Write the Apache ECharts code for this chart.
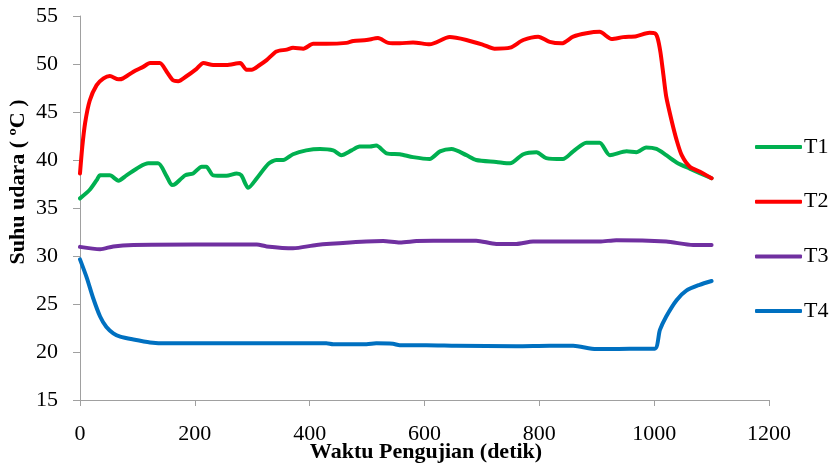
<!DOCTYPE html>
<html>
<head>
<meta charset="utf-8">
<script src="https://cdn.jsdelivr.net/npm/echarts@6/dist/echarts.min.js"></script>
<style>
  html, body { margin: 0; padding: 0; background: #fff; }
  #chart { width: 835px; height: 468px; }
</style>
</head>
<body>
<div id="chart"></div>
<script>
// Air temperature (°C) at four sensors over the test time (seconds)
const seriesNames = ['T1', 'T2', 'T3', 'T4'];
const seriesColors = ['#00B050', '#FF0000', '#7030A0', '#0070C0'];

const t1Time = [0,17,29,35,52,67,81,104,119,136,151,160,165,183,197,212,220,232,255,273,281,293,308,328,342,354,371,394,418,441,455,473,487,505,516,534,557,580,609,627,647,673,690,725,749,772,795,812,841,859,882,905,923,952,969,986,1004,1021,1039,1062,1100];
const t1Temp = [36.0,36.9,37.9,38.4,38.4,37.85,38.4,39.3,39.65,39.65,38.3,37.4,37.45,38.4,38.6,39.3,39.3,38.4,38.35,38.6,38.4,37.1,38.1,39.6,40.0,40.0,40.6,41.0,41.15,41.0,40.5,41.0,41.4,41.4,41.5,40.7,40.6,40.3,40.1,40.9,41.15,40.5,40.0,39.8,39.65,40.6,40.8,40.2,40.1,40.9,41.8,41.8,40.5,40.9,40.8,41.3,41.15,40.5,39.75,39.1,38.1];

const t2Time = [0,4,9,17,29,41,52,67,75,93,110,122,139,151,162,171,186,203,215,232,255,279,290,299,313,325,342,360,371,389,406,429,464,476,499,519,537,557,580,609,644,673,702,722,749,772,798,818,839,859,882,905,926,946,969,992,1001,1006,1011,1016,1021,1030,1039,1048,1062,1079,1100];
const t2Temp = [38.6,41.4,43.9,46.2,47.8,48.5,48.75,48.4,48.5,49.2,49.7,50.1,50.1,49.2,48.3,48.2,48.75,49.5,50.1,49.9,49.9,50.1,49.4,49.4,49.9,50.4,51.3,51.5,51.7,51.6,52.1,52.1,52.2,52.4,52.5,52.7,52.2,52.15,52.25,52.05,52.8,52.5,52.0,51.6,51.7,52.5,52.85,52.3,52.15,52.85,53.2,53.35,52.6,52.8,52.9,53.25,53.2,52.7,51.2,48.9,46.6,44.2,42.1,40.5,39.3,38.8,38.1];

const t3Time = [0,35,58,93,200,308,325,371,412,470,528,557,586,615,690,725,760,789,905,934,1021,1068,1100];
const t3Temp = [30.95,30.7,31.0,31.15,31.2,31.2,31.0,30.8,31.15,31.4,31.55,31.4,31.55,31.6,31.6,31.25,31.25,31.5,31.5,31.65,31.5,31.15,31.15];

const t4Time = [0,12,23,35,46,58,70,93,122,151,300,429,441,499,516,545,557,603,655,760,818,859,899,957,1001,1010,1021,1039,1056,1079,1100];
const t4Temp = [29.65,27.7,25.6,23.7,22.6,21.95,21.6,21.3,21.0,20.9,20.9,20.9,20.8,20.8,20.9,20.85,20.7,20.7,20.65,20.6,20.65,20.65,20.3,20.35,20.35,22.3,23.7,25.4,26.4,27.0,27.4];

const xTicks = { min: 0, max: 1200, step: 200 };
const yTicks = { min: 15, max: 55, step: 5 };

const xTitle = 'Waktu Pengujian (detik)';
const yTitle = 'Suhu udara ( ºC )';

const times = [t1Time, t2Time, t3Time, t4Time];
const temps = [t1Temp, t2Temp, t3Temp, t4Temp];

const FONT = '"Liberation Serif", "Times New Roman", serif';
const axisGray = '#a0a0a0';

const series = seriesNames.map((name, i) => ({
  name,
  type: 'line',
  symbol: 'none',
  showSymbol: false,
  smooth: 0.25,
  data: times[i].map((t, k) => [t, temps[i][k]]),
  lineStyle: { color: seriesColors[i], width: 4, cap: 'round', join: 'round' },
  itemStyle: { color: seriesColors[i] },
  z: 2 + i
}));

// Axis titles are placed as free text so their position is independent of label layout
const chart = echarts.init(document.getElementById('chart'), null, { renderer: 'canvas' });
chart.setOption({
  animation: false,
  backgroundColor: '#ffffff',
  grid: { left: 80, right: 66, top: 16, bottom: 68, containLabel: false, outerBoundsMode: 'none' },
  xAxis: {
    type: 'value',
    min: xTicks.min, max: xTicks.max, interval: xTicks.step,
    axisLine: { show: true, onZero: false, lineStyle: { color: axisGray, width: 1 } },
    axisTick: { show: true, inside: false, length: 6, lineStyle: { color: axisGray } },
    axisLabel: { fontFamily: FONT, fontSize: 22, color: '#000', margin: 23, formatter: v => String(v) },
    splitLine: { show: false }
  },
  yAxis: {
    type: 'value',
    min: yTicks.min, max: yTicks.max, interval: yTicks.step,
    axisLine: { show: true, lineStyle: { color: axisGray, width: 1 } },
    axisTick: { show: true, inside: false, length: 7, lineStyle: { color: axisGray } },
    axisLabel: { fontFamily: FONT, fontSize: 22, color: '#000', margin: 22 },
    splitLine: { show: false }
  },
  graphic: [
    {
      type: 'text',
      x: 426, y: 452,
      style: { text: xTitle, font: 'bold 22px ' + FONT, fill: '#000', align: 'center', verticalAlign: 'middle' }
    },
    {
      type: 'text',
      x: 18, y: 182,
      rotation: Math.PI / 2,
      style: { text: yTitle, font: 'bold 22px ' + FONT, fill: '#000', align: 'center', verticalAlign: 'middle' }
    }
  ],
  legend: {
    orient: 'vertical',
    left: 755,
    top: 136,
    icon: 'roundRect',
    itemWidth: 47,
    itemHeight: 4,
    itemGap: 32.7,
    padding: 0,
    data: seriesNames,
    textStyle: { fontFamily: FONT, fontSize: 22, color: '#000', lineHeight: 22, padding: [0, 0, 0, -3] }
  },
  series
});
</script>
</body>
</html>
